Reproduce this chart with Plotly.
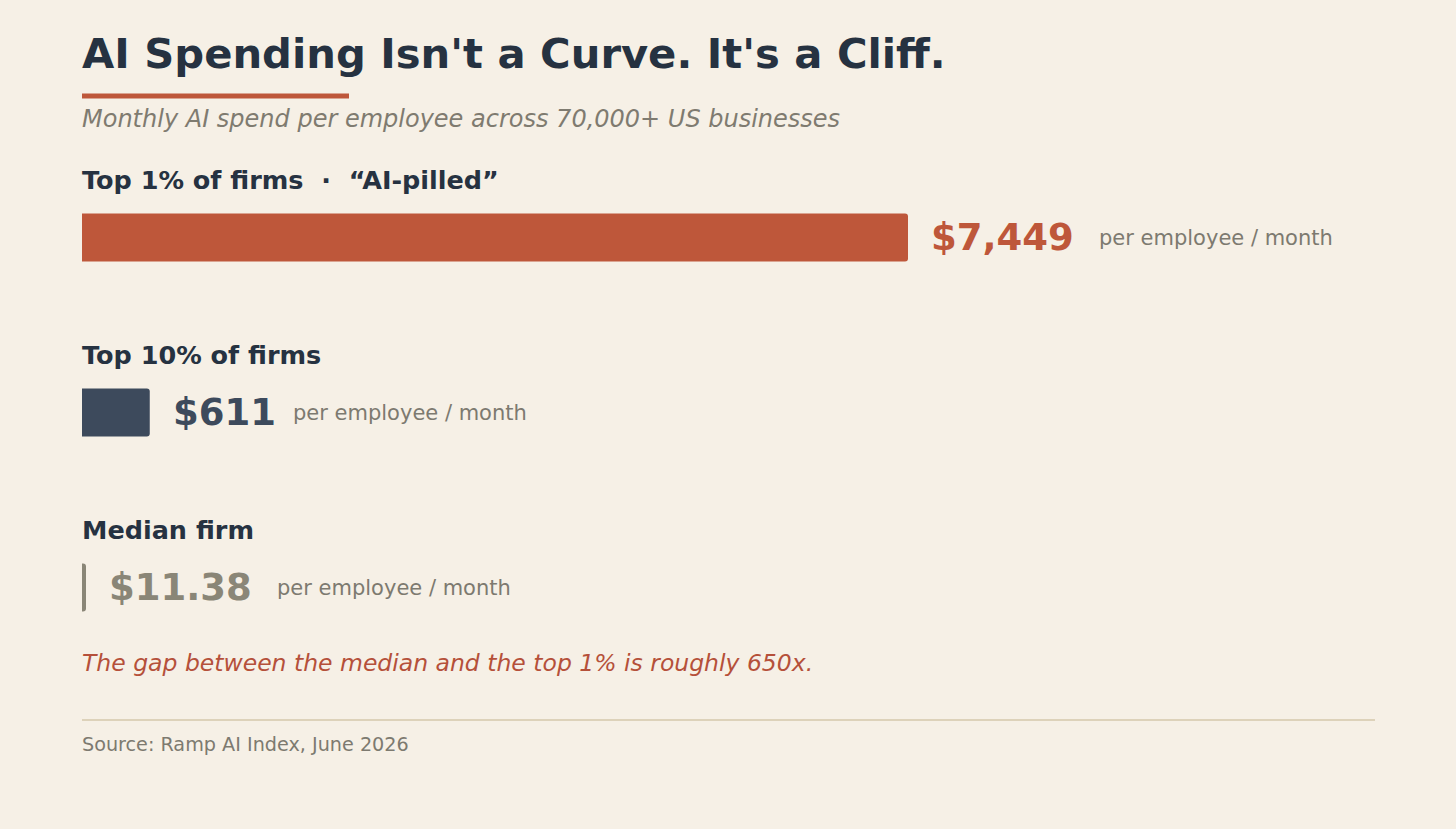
import plotly.graph_objects as go

# Data
tiers = ["Top 1% of firms  ·  “AI-pilled”", "Top 10% of firms", "Median firm"]
spend = [7449, 611, 11.38]
bar_colors = ["#BE573A", "#3D4A5C", "#8A8677"]
unit_text = "per employee / month"

BG = "#F6F0E6"
FONT = "DejaVu Sans"
W, H = 1456, 829
ML, MR, MT, MB = 82, 81, 150, 154
plot_w = W - ML - MR
plot_h = H - MT - MB

# 7,449 bar should run to ~64% of the plot width
xmax = max(spend) * plot_w / 826
min_len = 4 * xmax / plot_w  # keep tiny bars visible (~4px)
bar_len = [max(v, min_len) for v in spend]


def fmt(v):
    return f"${v:,.2f}" if v < 100 else f"${v:,.0f}"


def py(p):
    # pixel row -> paper y
    return (H - MB - p) / plot_h


fig = go.Figure()
fig.add_trace(go.Bar(
    x=bar_len,
    y=tiers,
    orientation="h",
    width=48 / 175,
    marker=dict(color=bar_colors, cornerradius=3, line=dict(width=0)),
    hoverinfo="skip",
))

annotations = []
for t, v, b, c in zip(tiers, spend, bar_len, bar_colors):
    label = fmt(v)
    # row label above the bar
    annotations.append(dict(
        x=0, xref="paper", y=t, yref="y", yshift=58, xshift=-2,
        xanchor="left", yanchor="middle", showarrow=False,
        text=f"<b>{t}</b>", font=dict(family=FONT, size=25.5, color="#263241"),
    ))
    # value to the right of the bar
    annotations.append(dict(
        x=b, xref="x", y=t, yref="y", xshift=21,
        xanchor="left", yanchor="middle", showarrow=False,
        text=f"<b>{label}</b>", font=dict(family=FONT, size=37, color=c),
    ))
    # unit after the value
    annotations.append(dict(
        x=b, xref="x", y=t, yref="y", xshift=23 + len(label) * 24 + 22,
        xanchor="left", yanchor="middle", showarrow=False,
        text=unit_text, font=dict(family=FONT, size=21, color="#7D7A70"),
    ))

annotations += [
    dict(x=0, xref="paper", y=py(53), yref="paper", xanchor="left", yanchor="middle",
         xshift=-2, showarrow=False, text="<b>AI Spending Isn't a Curve. It's a Cliff.</b>",
         font=dict(family=FONT, size=41.7, color="#263241")),
    dict(x=0, xref="paper", y=py(119), yref="paper", xanchor="left", yanchor="middle",
         xshift=-2, showarrow=False,
         text="<i>Monthly AI spend per employee across 70,000+ US businesses</i>",
         font=dict(family=FONT, size=24, color="#7F7B70")),
    dict(x=0, xref="paper", y=py(663), yref="paper", xanchor="left", yanchor="middle",
         xshift=-2, showarrow=False,
         text="<i>The gap between the median and the top 1% is roughly 650x.</i>",
         font=dict(family=FONT, size=23.5, color="#B5503A")),
    dict(x=0, xref="paper", y=py(744), yref="paper", xanchor="left", yanchor="middle",
         xshift=-2, showarrow=False, text="Source: Ramp AI Index, June 2026",
         font=dict(family=FONT, size=19.2, color="#7D7A70")),
]

shapes = [
    # accent underline under the title
    dict(type="rect", xref="x", yref="paper",
         x0=0, x1=xmax * (349 - ML) / plot_w, y0=py(98.5), y1=py(93.5),
         fillcolor="#BE573A", line=dict(width=0)),
    # separator above the source
    dict(type="line", xref="paper", yref="paper", x0=0, x1=1, y0=py(720), y1=py(720),
         line=dict(color="#DDD2BA", width=2)),
]

fig.update_layout(
    width=W, height=H,
    margin=dict(l=ML, r=MR, t=MT, b=MB),
    paper_bgcolor=BG, plot_bgcolor=BG,
    showlegend=False,
    xaxis=dict(range=[0, xmax], visible=False, fixedrange=True),
    yaxis=dict(autorange="reversed", visible=False, fixedrange=True),
    annotations=annotations,
    shapes=shapes,
    font=dict(family=FONT),
)

fig.write_html("out.html", config={"displayModeBar": False},
               post_script="document.body.style.margin='0';")
